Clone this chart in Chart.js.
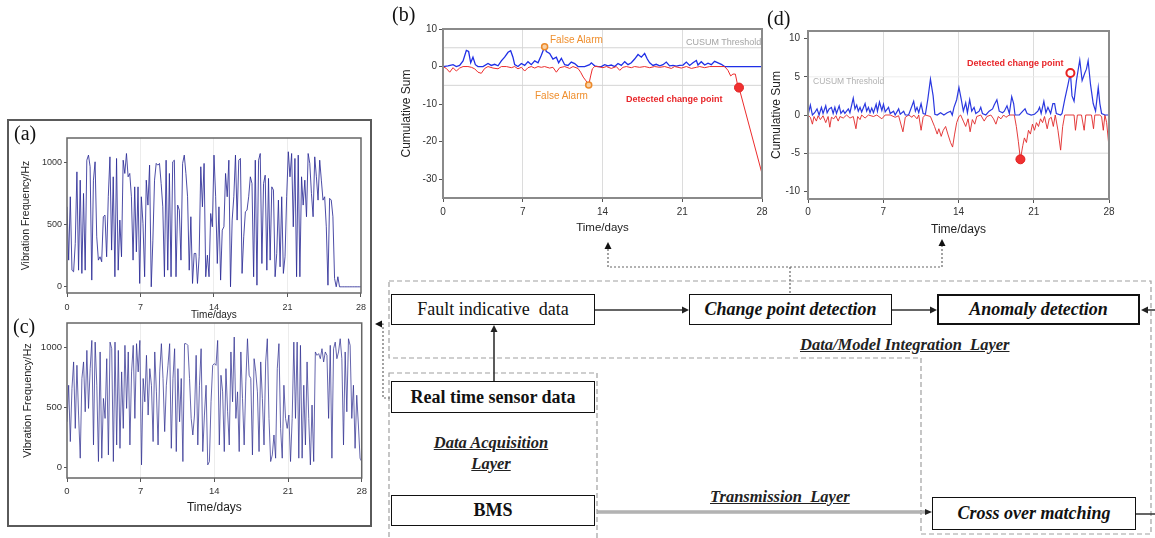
<!DOCTYPE html>
<html>
<head>
<meta charset="utf-8">
<script src="https://cdn.jsdelivr.net/npm/chart.js@4.4.0/dist/chart.umd.min.js"></script>
<style>
  body { margin: 0; width: 1155px; height: 538px; background: #fff; position: relative; overflow: hidden; font-family: "Liberation Sans", Arial, sans-serif; }
  .abs { position: absolute; }
  canvas { position: absolute; }
  .panel { position: absolute; font-family: "Liberation Serif", "Times New Roman", serif; font-size: 20px; line-height: 1; color: #111; }
  .box { position: absolute; box-sizing: border-box; border: 1.6px solid #111; display: flex; align-items: center; justify-content: center;
         font-family: "Liberation Serif", "Times New Roman", serif; font-size: 18px; color: #111; white-space: nowrap; background: #fff; }
  .b { font-weight: bold; }
  .bi { font-weight: bold; font-style: italic; }
  .thick { border-width: 2.2px; }
  .lay { position: absolute; font-family: "Liberation Serif", "Times New Roman", serif; font-size: 16.5px; line-height: 21px; font-weight: bold;
         font-style: italic; text-decoration: underline; color: #222; white-space: nowrap; }
  .note { position: absolute; white-space: nowrap; line-height: 1; }
</style>
</head>
<body>

<!-- diagram lines -->
<svg class="abs" style="left:0;top:0" width="1155" height="538">
  <g fill="none" stroke="#a0a0a0" stroke-width="1.2" stroke-dasharray="5 3">
    <path d="M389 281 H1151 V534 H921 V358 H389 Z"/>
    <rect x="389" y="373" width="208" height="166"/>
  </g>
  <g fill="none" stroke="#666" stroke-width="1.2" stroke-dasharray="2 2">
    <path d="M608 249 V267 H942 V246 M790 267 V294"/>
    <path d="M390 398 H383 V324 H381"/>
  </g>
  <g fill="#111">
    <path d="M608 242 l-3.5 7 h7 z"/>
    <path d="M942 239 l-3.5 7 h7 z"/>
    <path d="M375 324 l7 -3.5 v7 z"/>
  </g>
  <path d="M595 310 H683 M892 310 H931 M1155 310 H1147 M494 381 V331 M1136 514 H1155" stroke="#333" stroke-width="1.6" fill="none"/>
  <g fill="#222">
    <path d="M689 310 l-7 -3.5 v7 z"/>
    <path d="M937 310 l-7 -3.5 v7 z"/>
    <path d="M1141 310 l7 -3.5 v7 z"/>
    <path d="M494 325 l-3.5 7 h7 z"/>
  </g>
  <path d="M597 512 H926" stroke="#888" stroke-width="3.2"/>
  <path d="M597 512 H926" stroke="#ddd" stroke-width="1"/>
  <path d="M932 512 l-7 -3 v6 z" fill="#222"/>
</svg>

<div class="abs" style="left:7px;top:119px;width:365px;height:408px;border:2px solid #5a5a5a;box-sizing:border-box"></div>

<canvas id="chartA" width="357" height="191" style="left:14px;top:130px"></canvas>
<canvas id="chartC" width="357" height="200" style="left:14px;top:315px"></canvas>
<canvas id="chartB" width="380" height="215" style="left:392px;top:20px"></canvas>
<canvas id="chartD" width="357" height="216" style="left:762px;top:21px"></canvas>

<div class="panel" style="left:14px;top:123px">(a)</div>
<div class="panel" style="left:13px;top:316px">(c)</div>
<div class="panel" style="left:392px;top:4px">(b)</div>
<div class="panel" style="left:767px;top:8px">(d)</div>

<div class="note" style="left:550px;top:35px;font-size:10px;color:#ef8f2e">False Alarm</div>
<div class="note" style="left:535px;top:91px;font-size:10px;color:#ef8f2e">False Alarm</div>
<div class="note" style="left:686px;top:38px;font-size:9px;color:#a4a4a4">CUSUM Threshold</div>
<div class="note" style="left:626px;top:95px;font-size:9px;font-weight:bold;color:#e8262a">Detected change point</div>
<div class="note" style="left:967px;top:59px;font-size:9px;font-weight:bold;color:#e8262a">Detected change point</div>
<div class="note" style="left:813px;top:77px;font-size:8.5px;color:#b0b0b0">CUSUM Threshold</div>

<div class="box" style="left:391px;top:294px;width:204px;height:31px">Fault indicative&nbsp; data</div>
<div class="box bi" style="left:689px;top:294px;width:203px;height:31px">Change point detection</div>
<div class="box bi thick" style="left:937px;top:294px;width:203px;height:31px">Anomaly detection</div>
<div class="box b" style="left:391px;top:381px;width:204px;height:32px">Real time sensor data</div>
<div class="box b" style="left:391px;top:495px;width:204px;height:31px">BMS</div>
<div class="box bi" style="left:932px;top:497px;width:204px;height:33px">Cross over matching</div>

<div class="lay" style="left:800px;top:334px">Data/Model Integration&nbsp; Layer</div>
<div class="lay" style="left:430px;top:432px;width:122px;text-align:center">Data Acquisition<br>Layer</div>
<div class="lay" style="left:710px;top:486px">Transmission&nbsp; Layer</div>

<script>
const SANS = '"Liberation Sans", Arial, sans-serif';

// shared axis ticks
const days = [0, 7, 14, 21, 28];
const freqTicks = [0, 500, 1000];
const bTicks = [-30, -20, -10, 0, 10];
const dTicks = [-10, -5, 0, 5, 10];
const threshold = [5, -5];

// (a) vibration frequency, evenly sampled over 28 days
const aFreq = [
  645, 215, 726, 134, 121, 349, 927, 134, 860, 108,
  753, 134, 1021, 1062, 968, 54, 860, 1008, 403, 215,
  242, 202, 565, 578, 242, 726, 1048, 296, 887, 81,
  1035, 134, 538, 242, 1021, 914, 1075, 887, 914, 726,
  215, 806, 282, 806, 27, 726, 511, 81, 860, 659,
  981, 0, 376, 860, 995, 981, 995, 833, 645, 81,
  1021, 134, 914, 81, 1008, 1021, 81, 659, 618, 215,
  995, 1062, 914, 726, 134, 565, 27, 269, 269, 27,
  242, 968, 645, 995, 81, 255, 81, 591, 484, 1062,
  726, 188, 645, 54, 457, 484, 914, 726, 1021, 0,
  538, 726, 1062, 538, 1021, 1035, 108, 403, 605, 618,
  726, 887, 833, 81, 1021, 13, 1021, 1075, 188, 833,
  900, 134, 874, 215, 806, 780, 81, 269, 699, 161,
  726, 108, 242, 726, 1089, 887, 1075, 484, 1035, 81,
  1062, 81, 887, 659, 860, 565, 1075, 995, 753, 565,
  1048, 887, 699, 1021, 860, 699, 726, 484, 13, 713,
  699, 565, 67, 0, 81, 0, 0, 0, 0, 0,
  0, 0, 0, 0, 0, 0, 0, 0, 0
];

// (c) vibration frequency, evenly sampled over 28 days
const cFreq = [
  378, 682, 213, 655, 876, 323, 848, 434, 75, 738,
  876, 461, 972, 489, 820, 1055, 185, 1041, 682, 47,
  959, 75, 572, 406, 903, 102, 1041, 986, 47, 1041,
  185, 972, 157, 793, 323, 1014, 489, 959, 185, 793,
  1014, 406, 1028, 793, 1055, 19, 738, 544, 931, 434,
  820, 682, 213, 959, 627, 185, 793, 1028, 738, 296,
  682, 848, 1028, 157, 738, 986, 130, 820, 378, 738,
  47, 1028, 1028, 1014, 738, 406, 268, 434, 931, 185,
  682, 986, 130, 434, 682, 19, 47, 544, 848, 862,
  848, 1055, 185, 765, 627, 130, 820, 461, 185, 959,
  544, 1083, 406, 627, 130, 959, 572, 185, 710, 1069,
  765, 738, 102, 903, 793, 627, 130, 876, 572, 185,
  876, 1069, 406, 47, 102, 268, 75, 820, 1028, 323,
  75, 682, 406, 323, 434, 47, 406, 1041, 406, 1041,
  75, 1014, 75, 682, 185, 876, 406, 19, 517, 47,
  959, 931, 945, 903, 986, 876, 959, 931, 406, 1014,
  75, 986, 1041, 903, 959, 1069, 903, 185, 959, 461,
  1069, 1014, 406, 682, 157, 599, 351, 75, 47
];

// (b) CUSUM of (a)
const bUpperTime = [
  0, 0.44, 0.88, 1.17, 1.46, 1.76, 2.05, 2.25, 2.43, 2.63,
  2.84, 3.07, 3.51, 3.95, 4.24, 4.53, 4.83, 5.12, 5.41, 5.71,
  5.94, 6.14, 6.29, 6.58, 6.88, 7.17, 7.46, 7.75, 8.05, 8.34,
  8.63, 8.92, 9.07, 9.36, 9.65, 9.95, 10.15, 10.39, 10.68, 10.97,
  11.26, 11.56, 11.85, 12.14, 12.43, 12.87, 13.02, 13.31, 13.60, 13.90,
  14.19, 14.48, 14.77, 15.07, 15.36, 15.65, 15.95, 16.24, 16.53, 16.82,
  17.12, 17.41, 17.70, 17.93, 18.14, 18.43, 18.72, 19.02, 19.31, 19.60,
  19.89, 20.19, 20.48, 20.77, 21.07, 21.36, 21.65, 21.94, 22.24, 22.38,
  22.67, 22.97, 23.26, 23.55, 23.84, 24.14, 24.43, 24.72, 25.01, 28
];
const bUpperSum = [
  0, 0.2, 0.5, 0, 0.3, 1.5, 4.3, 4.0, 1.0, 2.5,
  0.5, 0, 0, 0.8, 0.3, 0.6, 0.2, 1.5, 2.5, 3.8,
  4.2, 2.5, 0.5, 0, 0.8, 0.3, 1.3, 0.5, 1.5, 1.0,
  3.0, 5.3, 4.0, 3.5, 2.0, 2.5, 1.0, 2.2, 0.5, 0.3,
  1.2, 0.8, 0, 0, 0, 0.5, 1.0, 0.2, 0, 0,
  0.5, 0.2, 0.4, 0, 0.8, 0.3, 1.3, 0.5, 1.0, 2.0,
  3.2, 2.5, 3.5, 2.0, 1.0, 0.3, 0.6, 0.2, 0.5, 1.2,
  0.2, 0.3, 0.1, 0.3, 0.4, 1.2, 0.3, 1.0, 1.6, 0.4,
  1.3, 0.4, 0.9, 0.5, 1.4, 1.0, 0.6, 0, 0, 0
];
const bLowerTime = [
  0, 0.29, 0.59, 0.88, 1.17, 1.46, 1.76, 2.19, 2.49, 2.78,
  3.07, 3.36, 3.66, 3.95, 4.39, 4.83, 5.12, 5.56, 6.00, 6.29,
  6.58, 6.88, 7.17, 7.46, 7.75, 8.05, 8.34, 8.63, 8.92, 9.36,
  9.65, 9.95, 10.24, 10.68, 11.12, 11.41, 11.85, 12.08, 12.31, 12.55,
  12.79, 12.96, 13.11, 13.31, 13.60, 14.04, 14.34, 14.77, 15.21, 15.51,
  15.80, 16.09, 16.53, 16.82, 17.26, 17.70, 18.14, 18.58, 19.02, 19.46,
  20.04, 20.33, 20.92, 21.36, 21.80, 22.24, 22.53, 22.97, 23.41, 24.72,
  25.01, 25.25, 25.45, 25.66, 25.83, 25.98, 28
];
const bLowerSum = [
  0, -0.5, -1.5, -0.3, -1.2, -0.4, 0, 0, -0.2, -0.6,
  -1.5, -1.8, -0.5, 0, -0.4, -0.6, 0, 0, -0.3, 0,
  -0.6, -0.2, -1.2, -0.3, 0, -0.4, 0, -0.2, 0, -0.4,
  -0.2, -1.5, -0.3, 0, -0.5, 0, -0.5, -1.5, -2.8, -3.8,
  -4.9, -2.5, -0.6, 0, 0, -0.3, 0, -0.5, 0, -1.0,
  -0.2, 0, -0.3, 0, -0.2, 0, -0.3, 0, -0.2, 0,
  -0.5, 0, -0.4, 0, -0.5, -0.2, 0, -0.3, 0, 0,
  -1.0, -2.5, -2.0, -2.0, -4.5, -5.6, -28.5
];
const bAlarmTime = [8.92, 12.79];
const bAlarmSum = [5.3, -4.9];
const bChangeTime = [25.98];
const bChangeSum = [-5.6];

// (d) CUSUM of (c)
const dUpperTime = [
  0, 0.22, 0.41, 0.62, 0.84, 1.03, 1.25, 1.40, 1.65, 1.78,
  1.97, 2.18, 2.34, 2.50, 2.65, 2.90, 3.06, 3.28, 3.43, 3.75,
  3.90, 4.21, 4.37, 4.53, 4.68, 4.84, 4.99, 5.31, 5.46, 5.62,
  5.77, 5.93, 6.09, 6.34, 6.46, 6.65, 6.87, 7.02, 7.18, 7.49,
  7.65, 7.96, 8.11, 8.43, 8.58, 8.90, 9.05, 9.36, 9.83, 9.99,
  10.14, 10.30, 10.52, 10.71, 10.92, 11.14, 11.39, 11.64, 11.80, 12.02,
  12.33, 12.64, 12.95, 13.26, 13.42, 13.58, 13.83, 14.04, 14.26, 14.45,
  14.67, 14.83, 15.04, 15.23, 15.45, 15.61, 15.92, 16.07, 16.23, 16.54,
  16.85, 17.17, 17.32, 17.57, 17.79, 18.10, 18.26, 18.51, 18.73, 18.95,
  19.13, 19.26, 19.66, 19.98, 20.19, 20.38, 20.76, 21.07, 21.38, 21.54,
  21.69, 21.94, 22.13, 22.32, 22.57, 22.78, 22.94, 23.10, 23.50, 23.63,
  23.88, 24.19, 24.41, 24.56, 24.75, 24.97, 25.28, 25.50, 25.75, 25.90,
  26.06, 26.28, 26.53, 26.75, 27.00, 27.15, 27.31, 27.62, 28
];
const dUpperSum = [
  0, 1.3, 0, 0.3, 0.8, 0, 1.0, 0.2, 1.2, 0.3,
  0.8, 1.0, 0.2, 1.0, 0.2, 1.2, 0.2, 0.6, 0.2, 0.8,
  0.3, 2.2, 0.8, 1.3, 0.5, 1.0, 0.4, 1.5, 0.5, 1.0,
  0.3, 0.9, 0.3, 1.4, 0.5, 1.7, 0.6, 1.4, 0.4, 1.0,
  0.2, 0.5, 0, 0.8, 0.1, 0.5, 0, 0, 1.8, 0.5,
  1.0, 0.3, 1.5, 0.2, 0.1, 2.0, 4.7, 2.5, 0.1, 0,
  0.3, 0, 0.3, 0.5, 0, 1.0, 2.0, 3.6, 2.0, 0.5,
  1.6, 0.3, 2.0, 0.5, 1.0, 0.2, 0.5, 1.0, 0.2, 0,
  0.5, 0.8, 1.3, 2.0, 0.5, 0.3, 0.5, 1.2, 0.2, 2.4,
  1.5, 0, 0, 0.5, 0.8, 0.2, 0, 0.1, 0.5, 1.0,
  0.2, 1.8, 0.3, 1.0, 0.2, 1.5, 1.5, 0.2, 0, 0.2,
  2.0, 4.0, 5.5, 2.5, 1.8, 4.5, 7.2, 4.5, 5.5, 6.0,
  7.1, 4.0, 1.5, 0.5, 3.6, 1.5, 0.2, 0, 0
];
const dLowerTime = [
  0, 0.22, 0.41, 0.56, 0.78, 0.94, 1.15, 1.40, 1.65, 1.87,
  2.03, 2.18, 2.40, 2.59, 2.81, 2.97, 3.28, 3.59, 3.90, 4.21,
  4.46, 4.62, 4.84, 4.99, 5.31, 5.62, 6.09, 6.40, 6.87, 7.18,
  7.65, 8.11, 8.43, 8.83, 9.05, 9.36, 9.68, 9.83, 10.14, 10.30,
  10.52, 10.71, 10.92, 11.39, 11.77, 12.02, 12.17, 12.39, 12.58, 12.80,
  13.01, 13.26, 13.45, 13.64, 13.83, 14.04, 14.20, 14.45, 14.67, 14.89,
  15.08, 15.29, 15.51, 15.70, 16.07, 16.39, 16.64, 17.01, 17.26, 17.48,
  17.70, 17.95, 18.20, 18.41, 18.73, 19.19, 19.38, 19.57, 19.76, 19.98,
  20.13, 20.32, 20.51, 20.69, 20.88, 21.07, 21.25, 21.44, 21.63, 21.82,
  22.00, 22.25, 22.44, 22.63, 22.82, 23.00, 23.25, 23.50, 23.69, 23.88,
  24.75, 24.88, 25.06, 25.44, 25.69, 25.84, 26.37, 26.56, 26.68, 27.12,
  27.31, 27.47, 27.62, 27.78, 28
];
const dLowerSum = [
  0, -0.3, -1.2, -0.2, -0.8, -0.1, -0.6, -0.1, -1.0, -0.2,
  -1.6, -0.3, -0.5, -0.1, -0.8, -0.2, -0.4, 0, -0.4, -0.2,
  -1.8, -0.2, -0.6, 0, -0.4, 0, -0.2, 0, -0.5, 0,
  0, -0.3, -0.1, -2.2, -0.3, 0, -0.3, 0, -0.5, 0,
  -2.0, -0.3, 0, -0.2, -1.5, -2.5, -1.8, -2.8, -2.0, -1.5,
  -2.5, -3.6, -4.2, -2.5, -1.0, -0.2, 0, -0.8, -1.5, -0.5,
  -2.2, -0.6, -1.2, -0.2, 0, -0.8, -0.2, 0, -0.5, -1.2,
  -0.2, -0.5, 0, -0.3, 0, 0, -1.5, -3.5, -5.8, -4.0,
  -3.0, -3.6, -2.0, -2.5, -1.2, -2.0, -1.0, -1.5, -0.5, -1.0,
  -0.2, -1.8, -0.5, -0.3, -1.5, 0, -2.0, -4.6, -1.5, 0,
  0, -2.0, 0, 0, -2.0, 0, 0, -1.8, 0, 0,
  -0.2, -2.0, 0, -1.0, -4.2
];
const dChangeUpTime = [24.41];
const dChangeUpSum = [5.5];
const dChangeLowTime = [19.76];
const dChangeLowSum = [-5.8];

const pts = (xs, ys) => ys.map((y, i) => ({ x: xs[i], y }));
const evenTime = arr => arr.map((v, i) => i * 28 / (arr.length - 1));
const hLine = v => [{ x: days[0], y: v }, { x: days[days.length - 1], y: v }];

// box around the plot area
const frame = {
  id: 'frame',
  afterDatasetsDraw(chart, args, opts) {
    const { ctx, chartArea: a } = chart;
    ctx.save();
    ctx.strokeStyle = opts.color;
    ctx.lineWidth = opts.width;
    ctx.strokeRect(a.left, a.top, a.right - a.left, a.bottom - a.top);
    ctx.restore();
  }
};

function makeChart(id, c) {
  return new Chart(document.getElementById(id), {
    type: 'line',
    data: { datasets: c.datasets },
    options: {
      responsive: false,
      animation: false,
      events: [],
      layout: { padding: { top: c.padTop, right: c.padRight, left: 0, bottom: 0 } },
      elements: { point: { radius: 0 }, line: { borderWidth: 1, tension: 0 } },
      plugins: {
        legend: { display: false },
        tooltip: { enabled: false },
        frame: { color: c.frameColor, width: c.frameWidth }
      },
      scales: {
        x: {
          type: 'linear', min: 0, max: 28,
          afterBuildTicks: s => { s.ticks = days.map(v => ({ value: v })); },
          afterFit: s => { s.height = c.xHeight; },
          border: { display: false },
          grid: {
            color: ctx => (ctx.tick && ctx.tick.value > 0 && ctx.tick.value < 28) ? c.gridColor : 'rgba(0,0,0,0)',
            tickColor: '#555', tickLength: 4
          },
          ticks: { color: '#333', font: { family: SANS, size: c.xTickSize }, padding: c.xTickPad, maxRotation: 0, callback: v => String(v) },
          title: { display: true, text: 'Time/days', color: '#222', font: { family: SANS, size: c.xTitleSize }, padding: { top: 0, bottom: 0 } }
        },
        y: {
          type: 'linear', min: c.yMin, max: c.yMax,
          afterBuildTicks: s => { s.ticks = c.yTicks.map(v => ({ value: v })); },
          afterFit: s => { s.width = c.yWidth; },
          border: { display: false },
          grid: { color: 'rgba(0,0,0,0)', tickColor: '#555', tickLength: c.yTickLen },
          ticks: { color: '#333', font: { family: SANS, size: c.yTickSize }, padding: c.yTickPad, callback: v => String(v) },
          title: { display: true, text: c.yTitle, color: '#222', font: { family: SANS, size: c.yTitleSize }, padding: { top: c.yTitlePad, bottom: 0 } }
        }
      }
    },
    plugins: [frame]
  });
}

// --- (a) raw signal ---
makeChart('chartA', {
  datasets: [{ data: pts(evenTime(aFreq), aFreq), borderColor: 'rgba(45,45,150,0.85)' }],
  padTop: 8, padRight: 7, xHeight: 28, yWidth: 53,
  yMin: -50, yMax: 1200, yTicks: freqTicks, yTitle: 'Vibration Frequency/Hz',
  xTickSize: 9, xTickPad: 5, xTitleSize: 10, yTickSize: 9, yTickPad: 2, yTickLen: 3, yTitleSize: 10.5, yTitlePad: 6,
  gridColor: '#ececec', frameColor: '#666', frameWidth: 1.5
});

// --- (c) raw signal ---
makeChart('chartC', {
  datasets: [{ data: pts(evenTime(cFreq), cFreq), borderColor: 'rgba(50,50,145,0.75)' }],
  padTop: 8, padRight: 6, xHeight: 37, yWidth: 53,
  yMin: -90, yMax: 1200, yTicks: freqTicks, yTitle: 'Vibration Frequency/Hz',
  xTickSize: 9.5, xTickPad: 4, xTitleSize: 12, yTickSize: 9.5, yTickPad: 2, yTickLen: 3, yTitleSize: 11, yTitlePad: 7,
  gridColor: '#ececec', frameColor: '#666', frameWidth: 1.5
});

// --- (b) CUSUM ---
makeChart('chartB', {
  datasets: [
    { data: pts(bChangeTime, bChangeSum), showLine: false, pointRadius: 4.5, pointBorderWidth: 1, pointBorderColor: '#e02020', pointBackgroundColor: '#f03030' },
    { data: pts(bAlarmTime, bAlarmSum), showLine: false, pointRadius: 3, pointBorderWidth: 1.5, pointBorderColor: '#ec8a2a', pointBackgroundColor: '#f8d0a4' },
    { data: pts(bLowerTime, bLowerSum), borderColor: '#ec2c2c' },
    { data: pts(bUpperTime, bUpperSum), borderColor: '#1f2fe6', borderWidth: 1.3 },
    { data: hLine(threshold[0]), borderColor: '#d4d4d4' },
    { data: hLine(threshold[1]), borderColor: '#d4d4d4' }
  ],
  padTop: 9, padRight: 10, xHeight: 37, yWidth: 51,
  yMin: -35, yMax: 10, yTicks: bTicks, yTitle: 'Cumulative Sum',
  xTickSize: 10, xTickPad: 4, xTitleSize: 11.5, yTickSize: 10, yTickPad: 2, yTickLen: 4, yTitleSize: 12, yTitlePad: 7.8,
  gridColor: '#dcdcdc', frameColor: '#8a8a8a', frameWidth: 2
});

// --- (d) CUSUM ---
makeChart('chartD', {
  datasets: [
    { data: pts(dChangeUpTime, dChangeUpSum), showLine: false, pointRadius: 4, pointBorderWidth: 2, pointBorderColor: '#e82020', pointBackgroundColor: '#fff' },
    { data: pts(dChangeLowTime, dChangeLowSum), showLine: false, pointRadius: 4.5, pointBorderWidth: 1, pointBorderColor: '#e02020', pointBackgroundColor: '#f03030' },
    { data: pts(dUpperTime, dUpperSum), borderColor: '#2a38e0', borderWidth: 1.2 },
    { data: pts(dLowerTime, dLowerSum), borderColor: 'rgba(225,40,40,0.9)' },
    { data: hLine(threshold[0]), borderColor: '#ececec' },
    { data: hLine(threshold[1]), borderColor: '#d8d8d8' }
  ],
  padTop: 9, padRight: 10, xHeight: 38, yWidth: 46,
  yMin: -11, yMax: 11, yTicks: dTicks, yTitle: 'Cumulative Sum',
  xTickSize: 10, xTickPad: 3, xTitleSize: 12, yTickSize: 10, yTickPad: 4, yTickLen: 4, yTitleSize: 12, yTitlePad: 7.5,
  gridColor: '#dcdcdc', frameColor: '#8a8a8a', frameWidth: 2
});
</script>
</body>
</html>
